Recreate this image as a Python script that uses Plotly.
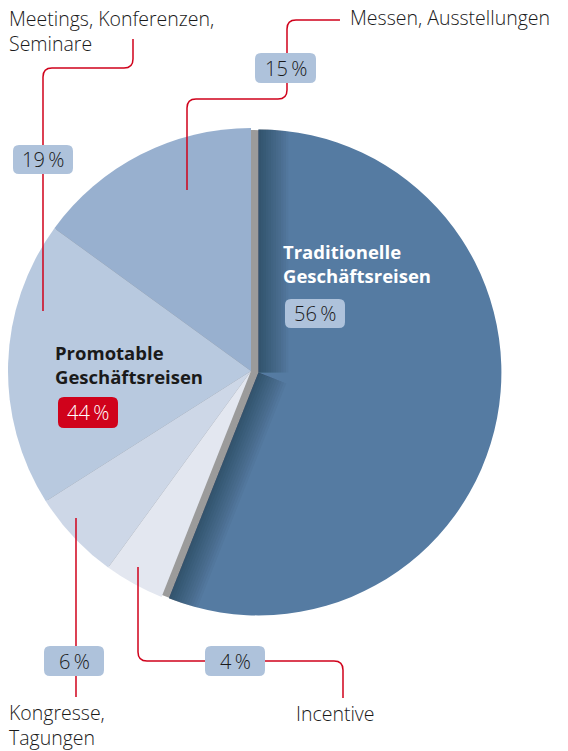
import math
import plotly.graph_objects as go

W, H = 568, 751

# ---------------- data ----------------
categories = ["Traditionelle Geschäftsreisen", "Incentive", "Kongresse, Tagungen",
              "Meetings, Konferenzen, Seminare", "Messen, Ausstellungen"]
shares = [56, 4, 6, 19, 15]
promotable_label = ["Promotable", "Geschäftsreisen"]
traditional_label = ["Traditionelle", "Geschäftsreisen"]
promotable_share = sum(shares[1:])  # 44

slice_colors = ["#557BA2", "#E3E7F0", "#CDD7E7", "#B8C9DF", "#98B0CF"]
pull_values = [0.031, 0, 0, 0, 0]

FONT = "Open Sans"
TXT = "#1a1a1a"
RED = "#D0021B"
BOXC = "#AEC2DB"

# ---------------- geometry (pixels) ----------------
CX, CY, R = 251, 371, 243


def pp(x, y):
    return f"{x / W:.5f},{1 - y / H:.5f}"


def poly_path(pts):
    return "M " + " L ".join(pp(x, y) for x, y in pts) + " Z"


def rounded_polyline(pts, r=9):
    out = ["M " + pp(*pts[0])]
    for i in range(1, len(pts) - 1):
        (x0, y0), (x1, y1), (x2, y2) = pts[i - 1], pts[i], pts[i + 1]
        d1 = math.hypot(x1 - x0, y1 - y0)
        d2 = math.hypot(x2 - x1, y2 - y1)
        a = (x1 - (x1 - x0) * r / d1, y1 - (y1 - y0) * r / d1)
        b = (x1 + (x2 - x1) * r / d2, y1 + (y2 - y1) * r / d2)
        out.append("L " + pp(*a))
        out.append("Q " + pp(x1, y1) + " " + pp(*b))
    out.append("L " + pp(*pts[-1]))
    return " ".join(out)


def rounded_rect(x0, y0, x1, y1, r=6):
    return (f"M {pp(x0 + r, y0)} L {pp(x1 - r, y0)} Q {pp(x1, y0)} {pp(x1, y0 + r)} "
            f"L {pp(x1, y1 - r)} Q {pp(x1, y1)} {pp(x1 - r, y1)} "
            f"L {pp(x0 + r, y1)} Q {pp(x0, y1)} {pp(x0, y1 - r)} "
            f"L {pp(x0, y0 + r)} Q {pp(x0, y0)} {pp(x0 + r, y0)} Z")


fig = go.Figure()

# gray underlay visible in the gap of the pulled slice
ru = R - 2
fig.add_trace(go.Pie(
    values=[1], marker=dict(colors=["#9B9B9B"], line=dict(width=0)),
    textinfo="none", hoverinfo="skip", sort=False, showlegend=False,
    domain=dict(x=[(CX - ru) / W, (CX + ru) / W], y=[1 - (CY + ru) / H, 1 - (CY - ru) / H]),
))

box = 2 * R * (1 + max(pull_values))
fig.add_trace(go.Pie(
    labels=categories, values=shares, sort=False, direction="clockwise", rotation=0,
    pull=pull_values, marker=dict(colors=slice_colors, line=dict(width=0)),
    textinfo="none", hoverinfo="label+percent", showlegend=False,
    domain=dict(x=[(CX - box / 2) / W, (CX + box / 2) / W],
                y=[1 - (CY + box / 2) / H, 1 - (CY - box / 2) / H]),
))

shapes = []

# inner shadow along the edges of the pulled slice
end_ang = math.radians(360 * shares[0] / 100)
mid = end_ang / 2
pr = pull_values[0] * R
PCX, PCY = CX + pr * math.sin(mid), CY - pr * math.cos(mid)


def band(theta, inward, w):
    n = inward
    p0 = (PCX, PCY)
    dang = math.asin(min(w / R, 1))
    sgn = 1 if (n[0] * math.cos(theta) + n[1] * math.sin(theta)) > 0 else -1
    pts = [p0]
    for k in range(6):
        t = theta + sgn * dang * k / 5
        pts.append((PCX + R * math.sin(t), PCY - R * math.cos(t)))
    pts.append((PCX + w * n[0], PCY + w * n[1]))
    return pts


n1 = (1.0, 0.0)
n2 = (-math.cos(end_ang), -math.sin(end_ang))
steps = 12
for k in range(1, steps + 1):
    w = 2.5 * k
    for theta, n in ((0.0, n1), (end_ang, n2)):
        shapes.append(dict(type="path", xref="paper", yref="paper", layer="above",
                           path=poly_path(band(theta, n, w)),
                           fillcolor="rgba(10,20,35,0.036)", line=dict(width=0)))

# leader lines
leaders = [
    [(133, 39), (133, 68), (43, 68), (43, 311)],
    [(340, 20), (287, 20), (287, 99), (187, 99), (187, 190)],
    [(76, 518), (76, 697)],
    [(138, 567), (138, 661), (343, 661), (343, 698)],
]
for pts in leaders:
    shapes.append(dict(type="path", xref="paper", yref="paper", layer="above",
                       path=rounded_polyline(pts, 9), line=dict(color=RED, width=1.5)))

# percentage boxes: (x0, y0, x1, y1, value, fill, textcolor)
boxes = [
    (13, 145, 73, 174, shares[3], BOXC, TXT),
    (255, 53, 316, 83, shares[4], BOXC, TXT),
    (44, 646, 104, 676, shares[2], BOXC, TXT),
    (205, 646, 265, 676, shares[1], BOXC, TXT),
    (285, 299, 345, 328, shares[0], BOXC, TXT),
    (58, 397, 118, 428, promotable_share, RED, "white"),
]
annotations = []
for x0, y0, x1, y1, v, fc, tc in boxes:
    shapes.append(dict(type="path", xref="paper", yref="paper", layer="above",
                       path=rounded_rect(x0, y0, x1, y1, 6), fillcolor=fc, line=dict(width=0)))
    annotations.append(dict(x=(x0 + x1) / 2 / W, y=1 - (y0 + y1) / 2 / H, xref="paper", yref="paper",
                            text=f"{v}\u2009%", showarrow=False, xanchor="center", yanchor="middle",
                            font=dict(family=FONT, size=20, color=tc, weight=300)))


def label(txt, x, y, size=20, color=TXT, bold=False):
    annotations.append(dict(x=x / W, y=1 - y / H, xref="paper", yref="paper",
                            text=txt, showarrow=False, align="left",
                            xanchor="left", yanchor="middle",
                            font=dict(family=FONT, size=size, color=color,
                                      weight=700 if bold else 300)))


label("Meetings, Konferenzen,<br>Seminare", 7, 30.5, size=19.5)
label("Messen, Ausstellungen", 348, 18, size=19.5)
label("Kongresse,<br>Tagungen", 7, 725, size=19.5)
label("Incentive", 294, 713, size=19.5)
label("<br>".join(traditional_label), 281, 263.5, size=18.5, color="white", bold=True)
label("<br>".join(promotable_label), 53, 365, size=18.5, bold=True)

fig.update_layout(
    width=W, height=H, margin=dict(l=0, r=0, t=0, b=0),
    paper_bgcolor="white", plot_bgcolor="white",
    shapes=shapes, annotations=annotations, showlegend=False,
)

fig.write_html("out.html", config={"displayModeBar": False},
               post_script="document.body.style.margin='0';")
